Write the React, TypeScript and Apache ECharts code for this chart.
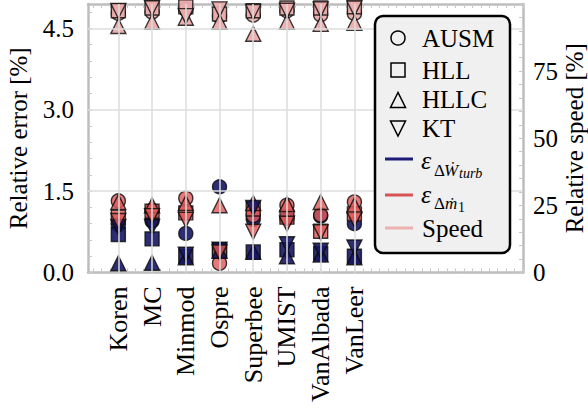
import React, { useEffect, useRef } from 'react';
import * as echarts from 'echarts';

const categories = ['Koren', 'MC', 'Minmod', 'Ospre', 'Superbee', 'UMIST', 'VanAlbada', 'VanLeer'];

// relative error of turbine power (navy), %
const ausmTurb = [0.88, 0.95, 0.72, 1.58, 0.98, 1.0, 1.04, 0.9];
const hllTurb = [0.7, 0.62, 0.3, 0.42, 0.38, 0.42, 0.35, 0.3];
const hllcTurb = [0.17, 0.18, 0.28, 0.4, 0.38, 0.3, 0.33, 0.28];
const ktTurb = [0.84, 0.84, 0.33, 0.42, 1.19, 0.52, 0.4, 0.46];

// relative error of mass flow (salmon), %
const ausmMass = [1.32, 1.15, 1.37, 0.17, 1.05, 1.24, 1.06, 1.3];
const hllMass = [1.02, 1.13, 1.1, 0.4, 1.17, 1.02, 0.76, 1.08];
const hllcMass = [1.3, 1.24, 1.28, 1.24, 1.28, 1.26, 1.3, 1.24];
const ktMass = [0.95, 1.04, 0.97, 0.37, 0.75, 0.9, 0.74, 0.98];

// relative speed (pink, right axis), %
const ausmSpeed = [96.5, 97, 98, 95.5, 95.9, 97.5, 96, 96.5];
const hllSpeed = [97.5, 98.5, 99, 96.3, 97.5, 98.5, 98.5, 99];
const hllcSpeed = [91.8, 93.4, 94.9, 93.4, 88.9, 93.4, 92.6, 93.0];
const ktSpeed = [97.4, 98.4, 95.5, 98, 97, 97.5, 98, 98.3];

const errorLabels = [0, 1.5, 3.0, 4.5];
const speedLabels = [0, 25, 50, 75];

const FONT = '"Liberation Serif", "DejaVu Serif", "Times New Roman", serif';
const NAVY = 'rgba(22,22,100,0.9)';
const SALMON = 'rgba(222,88,88,0.8)';
const PINK = 'rgba(236,172,172,0.95)';
const EDGE = 'rgba(10,10,10,0.8)';
const GRID = '#dcdcdc';
const FRAME = '#bdbdbd';

const schemes = [
  { name: 'AUSM', symbol: 'circle', rotate: 0, size: 14, turb: ausmTurb, mass: ausmMass, speed: ausmSpeed },
  { name: 'HLL', symbol: 'rect', rotate: 0, size: 14, turb: hllTurb, mass: hllMass, speed: hllSpeed },
  { name: 'HLLC', symbol: 'triangle', rotate: 0, size: 15, turb: hllcTurb, mass: hllcMass, speed: hllcSpeed },
  { name: 'KT', symbol: 'triangle', rotate: 180, size: 15, turb: ktTurb, mass: ktMass, speed: ktSpeed },
];

function scatter(name: string, values: number[], color: string, s: any, yAxisIndex: number, z: number) {
  return {
    type: 'scatter',
    name,
    xAxisIndex: 0,
    yAxisIndex,
    z,
    data: values.map((v, i) => [i, v]),
    symbol: s.symbol,
    symbolRotate: s.rotate,
    symbolSize: s.size,
    itemStyle: { color, borderColor: EDGE, borderWidth: 1.4, opacity: 1 },
    emphasis: { disabled: true },
  };
}

const xTicks: number[] = [];
for (let k = -3; k <= 48; k++) xTicks.push(k * 0.25);
const yTicks: number[] = [];
for (let k = 0; k <= 16; k++) yTicks.push(+(k * 0.3).toFixed(2));
const y2Ticks: number[] = [];
for (let k = 0; k <= 20; k++) y2Ticks.push(k * 5);

export default function App() {
  const ref = useRef<HTMLDivElement>(null);
  useEffect(() => {
    if (!ref.current) return;
    const chart = echarts.init(ref.current, null, { renderer: 'svg' });
    const series: any[] = [
      {
        type: 'scatter',
        xAxisIndex: 0,
        yAxisIndex: 0,
        data: [],
        z: 1,
        markLine: {
          silent: true,
          symbol: ['none', 'none'],
          label: { show: false },
          lineStyle: { color: GRID, width: 1.5, type: 'solid' },
          emphasis: { disabled: true },
          data: [
            ...categories.map((_, i) => ({ xAxis: i })),
            ...errorLabels.filter((v) => v > 0).map((v) => ({ yAxis: v })),
          ],
        },
      },
    ];
    schemes.forEach((s) => {
      series.push(scatter(s.name + ' turb', s.turb, NAVY, s, 0, 3));
      series.push(scatter(s.name + ' mass', s.mass, SALMON, s, 0, 3));
    });
    schemes.forEach((s) => {
      series.push(scatter(s.name + ' speed', s.speed, PINK, s, 1, 3));
    });

    const axisLine = { show: true, onZero: false, lineStyle: { color: FRAME, width: 2.5 } };
    const tickStyle = { color: '#c8c8c8', width: 1 };
    const labelStyle = { fontFamily: FONT, fontSize: 25, color: '#000' };

    const lx = 375, ly = 16, lw = 135, lh = 237;
    const mx = 398;
    const txtX = 422;
    const text = (t: string, x: number, y: number, fs: number, italic = false) => ({
      type: 'text',
      x,
      y,
      z: 101,
      style: { text: t, fontSize: fs, fontFamily: FONT, fontStyle: italic ? 'italic' : 'normal', fill: '#000', verticalAlign: 'middle', align: 'left' },
    });
    const open = { fill: 'none', stroke: '#000', lineWidth: 1.5 };

    const graphic: any[] = [
      { type: 'rect', z: 100, shape: { x: lx, y: ly, width: lw, height: lh, r: 8 }, style: { fill: '#f0f0f0', stroke: '#000', lineWidth: 2.5 } },
      { type: 'circle', z: 101, shape: { cx: mx, cy: 38, r: 7 }, style: open },
      { type: 'rect', z: 101, shape: { x: mx - 7, y: 63, width: 14, height: 14 }, style: open },
      { type: 'polygon', z: 101, shape: { points: [[mx, 92.5], [mx - 7.5, 107.5], [mx + 7.5, 107.5]] }, style: open },
      { type: 'polygon', z: 101, shape: { points: [[mx - 7.5, 121], [mx + 7.5, 121], [mx, 136]] }, style: open },
      { type: 'line', z: 101, shape: { x1: 385, y1: 159, x2: 413, y2: 159 }, style: { stroke: '#1c1c78', lineWidth: 3 } },
      { type: 'line', z: 101, shape: { x1: 385, y1: 195, x2: 413, y2: 195 }, style: { stroke: '#d65454', lineWidth: 3 } },
      { type: 'line', z: 101, shape: { x1: 385, y1: 228, x2: 413, y2: 228 }, style: { stroke: '#ebb2b2', lineWidth: 3 } },
      text('AUSM', txtX, 38, 25),
      text('HLL', txtX, 70, 25),
      text('HLLC', txtX, 99, 25),
      text('KT', txtX, 128.5, 25),
      text('ε', 421, 160.6, 26, true),
      text('Δ', 434, 170, 17),
      text('Ẇ', 444, 170, 17, true),
      text('turb', 459, 173.5, 14, true),
      text('ε', 421, 194.6, 26, true),
      text('Δ', 434, 203, 17),
      text('ṁ', 445, 203, 17, true),
      text('1', 458, 207.5, 14),
      text('Speed', txtX, 228, 25),
    ];

    chart.setOption({
      animation: false,
      backgroundColor: '#ffffff',
      textStyle: { fontFamily: FONT },
      grid: { left: 88, right: 65, top: 4, bottom: 144.5, containLabel: false, outerBoundsMode: 'none' },
      xAxis: [
        {
          type: 'value',
          position: 'bottom',
          min: -0.9,
          max: 12,
          axisLine,
          axisTick: { show: true, inside: true, length: 4, customValues: xTicks, lineStyle: tickStyle },
          axisLabel: {
            ...labelStyle,
            fontSize: 26,
            customValues: categories.map((_, i) => i),
            formatter: (v: number) => categories[Math.round(v)] ?? '',
            rotate: 90,
            margin: 14,
          },
          splitLine: { show: false },
        },
        {
          type: 'value',
          position: 'top',
          min: -0.9,
          max: 12,
          axisLine,
          axisTick: { show: true, inside: true, length: 4, customValues: xTicks, lineStyle: tickStyle },
          axisLabel: { show: false },
          splitLine: { show: false },
        },
      ],
      yAxis: [
        {
          type: 'value',
          position: 'left',
          min: 0,
          max: 4.95,
          name: 'Relative error [%]',
          nameLocation: 'middle',
          nameGap: 57,
          nameMoveOverlap: false,
          nameTextStyle: labelStyle,
          axisLine,
          axisTick: { show: true, inside: true, length: 4, customValues: yTicks, lineStyle: tickStyle },
          axisLabel: { ...labelStyle, customValues: errorLabels, formatter: (v: number) => v.toFixed(1), margin: 14 },
          splitLine: { show: false },
        },
        {
          type: 'value',
          position: 'right',
          min: 0,
          max: 100,
          name: 'Relative speed [%]',
          nameLocation: 'middle',
          nameGap: 39,
          nameMoveOverlap: false,
          nameTextStyle: labelStyle,
          axisLine,
          axisTick: { show: true, inside: true, length: 4, customValues: y2Ticks, lineStyle: tickStyle },
          axisLabel: { ...labelStyle, customValues: speedLabels, formatter: (v: number) => String(v), margin: 10 },
          splitLine: { show: false },
        },
      ],
      series,
      graphic,
    });
    return () => chart.dispose();
  }, []);
  return <div ref={ref} style={{ position: 'fixed', left: 0, top: 0, width: 588, height: 417, background: '#fff' }} />;
}
